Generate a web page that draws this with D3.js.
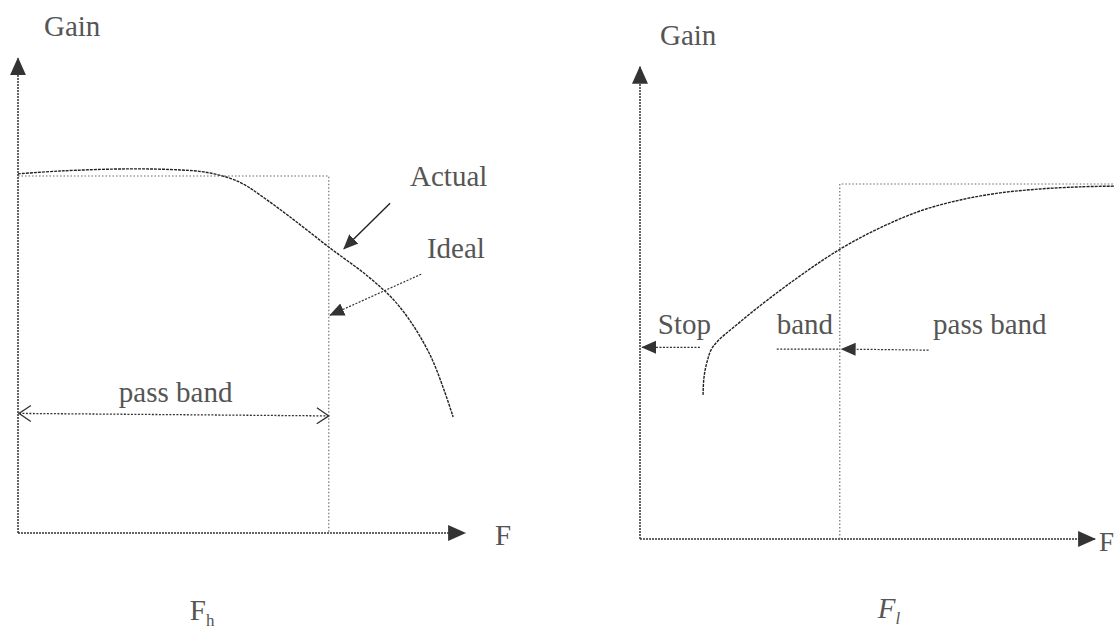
<!DOCTYPE html>
<html>
<head>
<meta charset="utf-8">
<script src="https://cdn.jsdelivr.net/npm/d3@7"></script>
<style>
  body { margin: 0; background: #fff; }
  text { font-family: "Liberation Serif", "Times New Roman", serif; fill: #555; }
</style>
</head>
<body>
<div id="chart"></div>
<script>
// low-pass panel: actual response [frequency, gain]
const lowpassActual = [[0, 1.006], [0.95, 1.014], [2.52, 1.02], [3.65, 1.017], [4.21, 1.011], [4.77, 0.994],
  [5.11, 0.975], [5.45, 0.947], [6.13, 0.885], [7.03, 0.798], [7.93, 0.714], [8.6, 0.633], [9.28, 0.499], [9.8, 0.325]];
const lowpassCutoff = 7.0;

// high-pass panel
const highpassActual = [[1.42, 0.406], [1.44, 0.454], [1.51, 0.499], [1.64, 0.541], [2.25, 0.611],
  [3.38, 0.721], [4.5, 0.816], [5.4, 0.876], [6.31, 0.924], [7.21, 0.955], [8.11, 0.975], [9.01, 0.986],
  [9.91, 0.992], [10.68, 0.994]];
const highpassCutoff = 4.5;

const idealGain = 1;
const axisLabels = ['Gain', 'F'];
const lowpassLabels = ['Actual', 'Ideal', 'pass band'];
const highpassLabels = ['Stop', 'band', 'pass band'];
const cutoffNames = [['F', 'h'], ['F', 'l']];

const width = 1114, height = 632;

const svg = d3.select('#chart').append('svg')
    .attr('width', width)
    .attr('height', height);

const defs = svg.append('defs');

defs.append('marker')
    .attr('id', 'solid')
    .attr('markerUnits', 'userSpaceOnUse')
    .attr('viewBox', '0 -9 18 18')
    .attr('markerWidth', 18)
    .attr('markerHeight', 18)
    .attr('refX', 17)
    .attr('refY', 0)
    .attr('orient', 'auto-start-reverse')
  .append('path')
    .attr('d', 'M0,-8L18,0L0,8Z')
    .attr('fill', '#333');

defs.append('marker')
    .attr('id', 'small')
    .attr('markerUnits', 'userSpaceOnUse')
    .attr('viewBox', '0 -8 16 16')
    .attr('markerWidth', 15)
    .attr('markerHeight', 15)
    .attr('refX', 15)
    .attr('refY', 0)
    .attr('orient', 'auto-start-reverse')
  .append('path')
    .attr('d', 'M0,-7L16,0L0,7Z')
    .attr('fill', '#333');

defs.append('marker')
    .attr('id', 'open')
    .attr('markerUnits', 'userSpaceOnUse')
    .attr('viewBox', '-1 -10 14 20')
    .attr('markerWidth', 14)
    .attr('markerHeight', 20)
    .attr('refX', 12)
    .attr('refY', 0)
    .attr('orient', 'auto-start-reverse')
  .append('path')
    .attr('d', 'M0,-8L12,0L0,8')
    .attr('fill', 'none')
    .attr('stroke', '#333')
    .attr('stroke-width', 1.3);

function drawPanel(p) {
  const x = d3.scaleLinear().domain([0, 10]).range(p.xRange);
  const y = d3.scaleLinear().domain([0, 1]).range(p.yRange);
  const g = svg.append('g');

  const line = d3.line().x(d => x(d[0])).y(d => y(d[1]));

  // axes
  g.append('path')
      .attr('d', line([[0, 0], [0, p.gainMax]]))
      .attr('fill', 'none')
      .attr('stroke', '#333')
      .attr('stroke-width', 1.5)
      .attr('stroke-dasharray', '2,1')
      .attr('marker-end', 'url(#solid)');
  g.append('path')
      .attr('d', line([[0, 0], [p.freqMax, 0]]))
      .attr('fill', 'none')
      .attr('stroke', '#333')
      .attr('stroke-width', 1.5)
      .attr('stroke-dasharray', '2,1')
      .attr('marker-end', 'url(#solid)');

  g.append('text')
      .attr('x', x(0) + p.gainDx)
      .attr('y', y(p.gainMax) - 22)
      .attr('font-size', 29)
      .text(axisLabels[0]);
  g.append('text')
      .attr('x', x(p.freqMax) + p.fDx)
      .attr('y', y(0) + 12)
      .attr('font-size', p.fSize)
      .text(axisLabels[1]);

  // ideal response
  g.append('path')
      .attr('d', line(p.ideal))
      .attr('fill', 'none')
      .attr('stroke', '#666')
      .attr('stroke-width', 1.1)
      .attr('stroke-dasharray', '1.5,2');

  // actual response
  g.append('path')
      .attr('d', d3.line().x(d => x(d[0])).y(d => y(d[1])).curve(d3.curveCatmullRom)(p.actual))
      .attr('fill', 'none')
      .attr('stroke', '#222')
      .attr('stroke-width', 1.4)
      .attr('stroke-dasharray', '3,1');

  // cutoff name under the axis
  const name = g.append('text')
      .attr('x', x(p.cutoff) + p.nameDx)
      .attr('y', p.nameY)
      .attr('font-size', 29)
      .attr('font-style', p.italic ? 'italic' : 'normal')
      .text(p.name[0]);
  name.append('tspan')
      .attr('dy', 6)
      .attr('font-size', 17)
      .text(p.name[1]);

  return {g, x, y};
}

// left: low-pass
const lp = drawPanel({
  xRange: [18, 462], yRange: [533, 176], gainMax: 1.33, freqMax: 10.07, gainDx: 26,
  fDx: 30, fSize: 29,
  cutoff: lowpassCutoff,
  ideal: [[0, idealGain], [lowpassCutoff, idealGain], [lowpassCutoff, 0]],
  actual: lowpassActual,
  name: cutoffNames[0], nameDx: -139, nameY: 620, italic: false
});

lp.g.append('text').attr('x', lp.x(8.83)).attr('y', lp.y(0.972)).attr('font-size', 29).text(lowpassLabels[0]);
lp.g.append('text').attr('x', lp.x(9.21)).attr('y', lp.y(0.77)).attr('font-size', 29).text(lowpassLabels[1]);
lp.g.append('path')
    .attr('d', d3.line()([[lp.x(8.38), lp.y(0.924)], [lp.x(7.34), lp.y(0.796)]]))
    .attr('stroke', '#222').attr('stroke-width', 1.4)
    .attr('marker-end', 'url(#small)');
lp.g.append('path')
    .attr('d', d3.line()([[lp.x(9.08), lp.y(0.725)], [lp.x(7.03), lp.y(0.61)]]))
    .attr('stroke', '#333').attr('stroke-width', 1.2).attr('stroke-dasharray', '2,1.5')
    .attr('marker-end', 'url(#small)');
lp.g.append('path')
    .attr('d', d3.line()([[lp.x(0.02), lp.y(0.335)], [lp.x(lowpassCutoff), lp.y(0.328)]]))
    .attr('stroke', '#333').attr('stroke-width', 1.3).attr('stroke-dasharray', '2,1.5')
    .attr('marker-start', 'url(#open)')
    .attr('marker-end', 'url(#open)');
lp.g.append('text')
    .attr('x', lp.x(3.55)).attr('y', lp.y(0.367))
    .attr('text-anchor', 'middle').attr('font-size', 29)
    .text(lowpassLabels[2]);

// right: high-pass
const hp = drawPanel({
  xRange: [640, 1084], yRange: [539, 184], gainMax: 1.33, freqMax: 10.25, gainDx: 20,
  fDx: 4, fSize: 27,
  cutoff: highpassCutoff,
  ideal: [[highpassCutoff, 0], [highpassCutoff, idealGain], [10.7, idealGain]],
  actual: highpassActual,
  name: cutoffNames[1], nameDx: 38, nameY: 618, italic: true
});

hp.g.append('text').attr('x', hp.x(0.4)).attr('y', hp.y(0.578)).attr('font-size', 29).text(highpassLabels[0]);
hp.g.append('text').attr('x', hp.x(3.08)).attr('y', hp.y(0.578)).attr('font-size', 29).text(highpassLabels[1]);
hp.g.append('text').attr('x', hp.x(6.6)).attr('y', hp.y(0.578)).attr('font-size', 29).text(highpassLabels[2]);
hp.g.append('path')
    .attr('d', d3.line()([[hp.x(1.35), hp.y(0.54)], [hp.x(0.05), hp.y(0.54)]]))
    .attr('stroke', '#333').attr('stroke-width', 1.2).attr('stroke-dasharray', '2,1.5')
    .attr('marker-end', 'url(#small)');
hp.g.append('path')
    .attr('d', d3.line()([[hp.x(3.08), hp.y(0.535)], [hp.x(highpassCutoff), hp.y(0.535)]]))
    .attr('stroke', '#333').attr('stroke-width', 1.2).attr('stroke-dasharray', '2,1.5');
hp.g.append('path')
    .attr('d', d3.line()([[hp.x(6.5), hp.y(0.532)], [hp.x(highpassCutoff + 0.04), hp.y(0.535)]]))
    .attr('stroke', '#333').attr('stroke-width', 1.2).attr('stroke-dasharray', '2,1.5')
    .attr('marker-end', 'url(#small)');
</script>
</body>
</html>
